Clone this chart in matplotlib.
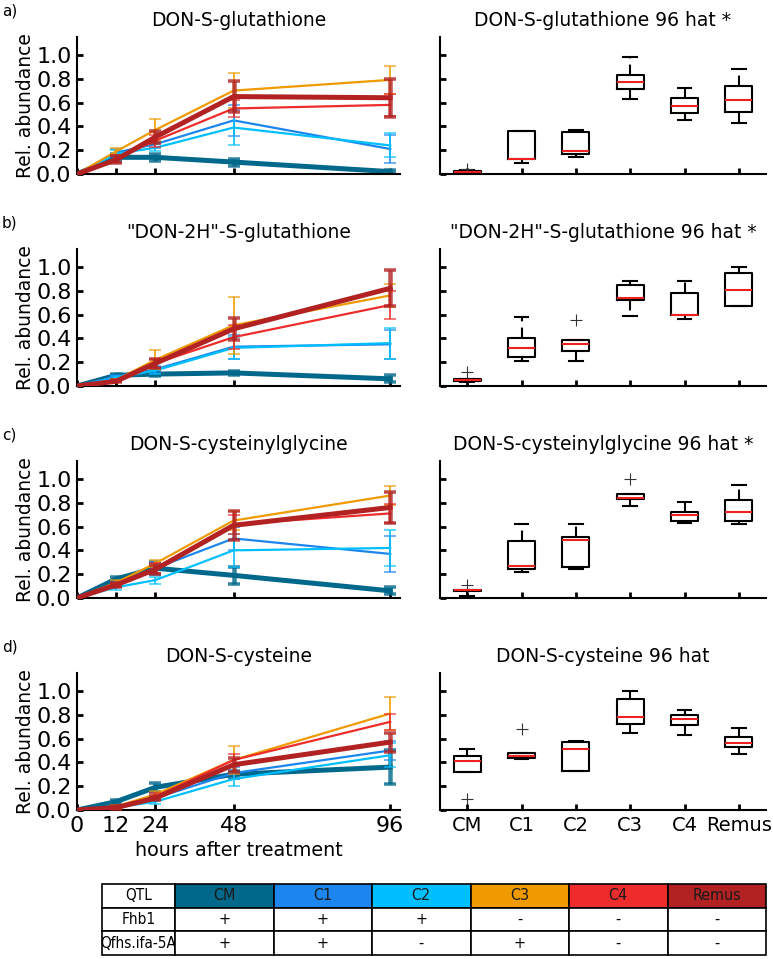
import matplotlib
matplotlib.use("Agg")
import matplotlib.pyplot as plt
import numpy as np

# genotypes and colours
genotypes = ["CM", "C1", "C2", "C3", "C4", "Remus"]
colors = ["#00688B", "#1C86EE", "#00BFFF", "#EE9A00", "#EE2C2C", "#B22222"]
hours = [0, 12, 24, 48, 96]

# time courses (mean, error) per genotype, order as genotypes
gsh_mean = [[0, .14, .14, .10, .02], [0, .18, .25, .45, .21], [0, .17, .22, .39, .24],
            [0, .19, .37, .70, .79], [0, .13, .28, .55, .58], [0, .12, .31, .65, .64]]
gsh_err = [[0, .03, .03, .03, .01], [0, .03, .03, .13, .12], [0, .03, .03, .15, .10],
           [0, .03, .09, .15, .12], [0, .03, .05, .07, .09], [0, .03, .05, .13, .16]]

dh_mean = [[0, .09, .10, .11, .06], [0, .08, .14, .33, .35], [0, .07, .13, .32, .36],
           [0, .05, .22, .51, .76], [0, .04, .19, .41, .68], [0, .04, .19, .48, .82]]
dh_err = [[0, .01, .02, .02, .03], [0, .01, .03, .10, .12], [0, .01, .03, .09, .13],
          [0, .01, .08, .24, .10], [0, .01, .04, .10, .12], [0, .01, .04, .09, .15]]

cg_mean = [[0, .16, .25, .19, .06], [0, .12, .25, .50, .37], [0, .09, .15, .40, .42],
           [0, .13, .29, .65, .86], [0, .11, .25, .62, .71], [0, .11, .24, .61, .76]]
cg_err = [[0, .02, .05, .07, .03], [0, .02, .05, .10, .15], [0, .02, .03, .14, .15],
          [0, .02, .03, .08, .08], [0, .02, .04, .08, .08], [0, .02, .04, .12, .13]]

cys_mean = [[0, .07, .19, .30, .36], [0, .03, .10, .31, .50], [0, .02, .07, .26, .46],
            [0, .03, .13, .42, .81], [0, .02, .11, .42, .74], [0, .02, .10, .38, .57]]
cys_err = [[0, .01, .04, .03, .14], [0, .01, .02, .05, .08], [0, .01, .02, .06, .10],
           [0, .01, .03, .12, .14], [0, .01, .03, .05, .07], [0, .01, .02, .06, .08]]

# boxplot stats at 96 hat: whislo, q1, med, q3, whishi, fliers
gsh_lo = [.00, .09, .14, .63, .45, .43]
gsh_q1 = [.015, .125, .165, .71, .51, .52]
gsh_med = [.02, .125, .195, .775, .57, .625]
gsh_q3 = [.025, .365, .35, .83, .64, .74]
gsh_hi = [.03, .365, .37, .985, .72, .88]
gsh_fl = [[.045], [], [], [], [], []]

dh_lo = [.03, .21, .21, .59, .56, .67]
dh_q1 = [.04, .24, .29, .72, .60, .67]
dh_med = [.05, .32, .35, .74, .60, .81]
dh_q3 = [.055, .40, .39, .85, .78, .95]
dh_hi = [.06, .58, .39, .88, .88, 1.0]
dh_fl = [[.12], [], [.55], [], [], []]

cg_lo = [.015, .22, .24, .77, .63, .62]
cg_q1 = [.06, .24, .26, .83, .65, .65]
cg_med = [.065, .27, .49, .84, .70, .72]
cg_q3 = [.07, .48, .51, .87, .72, .82]
cg_hi = [.07, .62, .62, .87, .81, .95]
cg_fl = [[.11], [], [], [1.0], [], []]

cys_lo = [.32, .43, .33, .65, .63, .47]
cys_q1 = [.32, .44, .33, .72, .71, .53]
cys_med = [.41, .45, .51, .78, .76, .56]
cys_q3 = [.45, .48, .57, .93, .80, .61]
cys_hi = [.51, .48, .58, 1.0, .84, .69]
cys_fl = [[.09], [.68], [], [], [], []]

panels = [
    ("a)", "DON-S-glutathione", gsh_mean, gsh_err,
     "DON-S-glutathione 96 hat *", gsh_lo, gsh_q1, gsh_med, gsh_q3, gsh_hi, gsh_fl),
    ("b)", '"DON-2H"-S-glutathione', dh_mean, dh_err,
     '"DON-2H"-S-glutathione 96 hat *', dh_lo, dh_q1, dh_med, dh_q3, dh_hi, dh_fl),
    ("c)", "DON-S-cysteinylglycine", cg_mean, cg_err,
     "DON-S-cysteinylglycine 96 hat *", cg_lo, cg_q1, cg_med, cg_q3, cg_hi, cg_fl),
    ("d)", "DON-S-cysteine", cys_mean, cys_err,
     "DON-S-cysteine 96 hat", cys_lo, cys_q1, cys_med, cys_q3, cys_hi, cys_fl),
]

# table
fhb1 = ["+", "+", "+", "-", "-", "-"]
qfhs = ["+", "+", "-", "+", "-", "-"]

W, H = 773, 959
fig = plt.figure(figsize=(W / 100, H / 100), dpi=100)

def style(ax):
    for s in ["top", "right"]:
        ax.spines[s].set_visible(False)
    for s in ["left", "bottom"]:
        ax.spines[s].set_linewidth(1.5)
    ax.tick_params(direction="in", length=4, width=2, labelsize=16, pad=4)

bottoms_px = [174, 386, 598, 810]
for i, (lab, t1, means, errs, t2, lo, q1, med, q3, hi, fl) in enumerate(panels):
    yb = 1 - bottoms_px[i] / H
    h = 137 / H
    axl = fig.add_axes([77 / W, yb, 323 / W, h])
    axr = fig.add_axes([440 / W, yb, 326 / W, h])

    for g, c in enumerate(colors):
        lw = 3.6 if g in (0, 5) else 1.6
        eb = axl.errorbar(hours, means[g], yerr=errs[g], color=c, lw=lw, elinewidth=lw * 0.9,
                          capsize=4, capthick=lw * 0.7, zorder=2 + g)
        for art in eb[1] + eb[2]:
            art.set_alpha(0.8)
    axl.set_xlim(0, 99)
    axl.set_ylim(0, 1.15)
    axl.set_xticks(hours)
    axl.set_yticks([0, 0.2, 0.4, 0.6, 0.8, 1.0])
    axl.set_yticklabels(["0.0", "0.2", "0.4", "0.6", "0.8", "1.0"])
    axl.set_ylabel("Rel. abundance", fontsize=13.5, labelpad=1)
    axl.set_title(t1, fontsize=13.5, pad=8)
    style(axl)

    stats = []
    for k in range(6):
        stats.append(dict(whislo=lo[k], q1=q1[k], med=med[k], q3=q3[k],
                          whishi=hi[k], fliers=fl[k]))
    axr.bxp(stats, positions=range(1, 7), widths=0.5, capwidths=0.25,
            boxprops=dict(color="black", lw=1.5),
            medianprops=dict(color="#EE2020", lw=1.5),
            whiskerprops=dict(color="black", lw=1.5, ls=(0, (5, 3))),
            capprops=dict(color="black", lw=1.5),
            flierprops=dict(marker="+", markeredgecolor="#333333", markersize=8,
                            markeredgewidth=0.8))
    axr.set_xlim(0.5, 6.5)
    axr.set_ylim(0, 1.15)
    axr.set_yticks([0, 0.2, 0.4, 0.6, 0.8, 1.0])
    axr.set_yticklabels([])
    axr.set_xticks(range(1, 7))
    axr.set_title(t2, fontsize=13.5, pad=8)
    style(axr)
    if i < 3:
        axl.set_xticklabels([])
        axr.set_xticklabels([])
    else:
        axl.set_xticklabels([str(x) for x in hours])
        axr.set_xticklabels(genotypes, fontsize=14)
        axl.set_xlabel("hours after treatment", fontsize=13.8, labelpad=4)

    fig.text(2 / W, 1 - (bottoms_px[i] - 163) / H, lab, fontsize=11, va="center")

# QTL table
axt = fig.add_axes([102 / W, 4 / H, 664 / W, 71 / H])
axt.axis("off")
cells = [["QTL"] + genotypes, ["Fhb1"] + fhb1, ["Qfhs.ifa-5A"] + qfhs]
cell_colours = [["white"] + colors, ["white"] * 7, ["white"] * 7]
colw = [73] + [98.5] * 6
tot = sum(colw)
tb = axt.table(cellText=cells, cellColours=cell_colours, cellLoc="center",
               colWidths=[c / tot for c in colw], bbox=[0, 0, 1, 1])
tb.auto_set_font_size(False)
for (r, c), cell in tb.get_celld().items():
    cell.set_linewidth(1.2)
    cell.get_text().set_fontsize(11.5 if c > 0 else 11)
    cell.get_text().set_fontstretch("condensed")
    if r == 0 and c > 0:
        cell.get_text().set_color("#1a1a1a")

fig.savefig("out.png", dpi=100)
